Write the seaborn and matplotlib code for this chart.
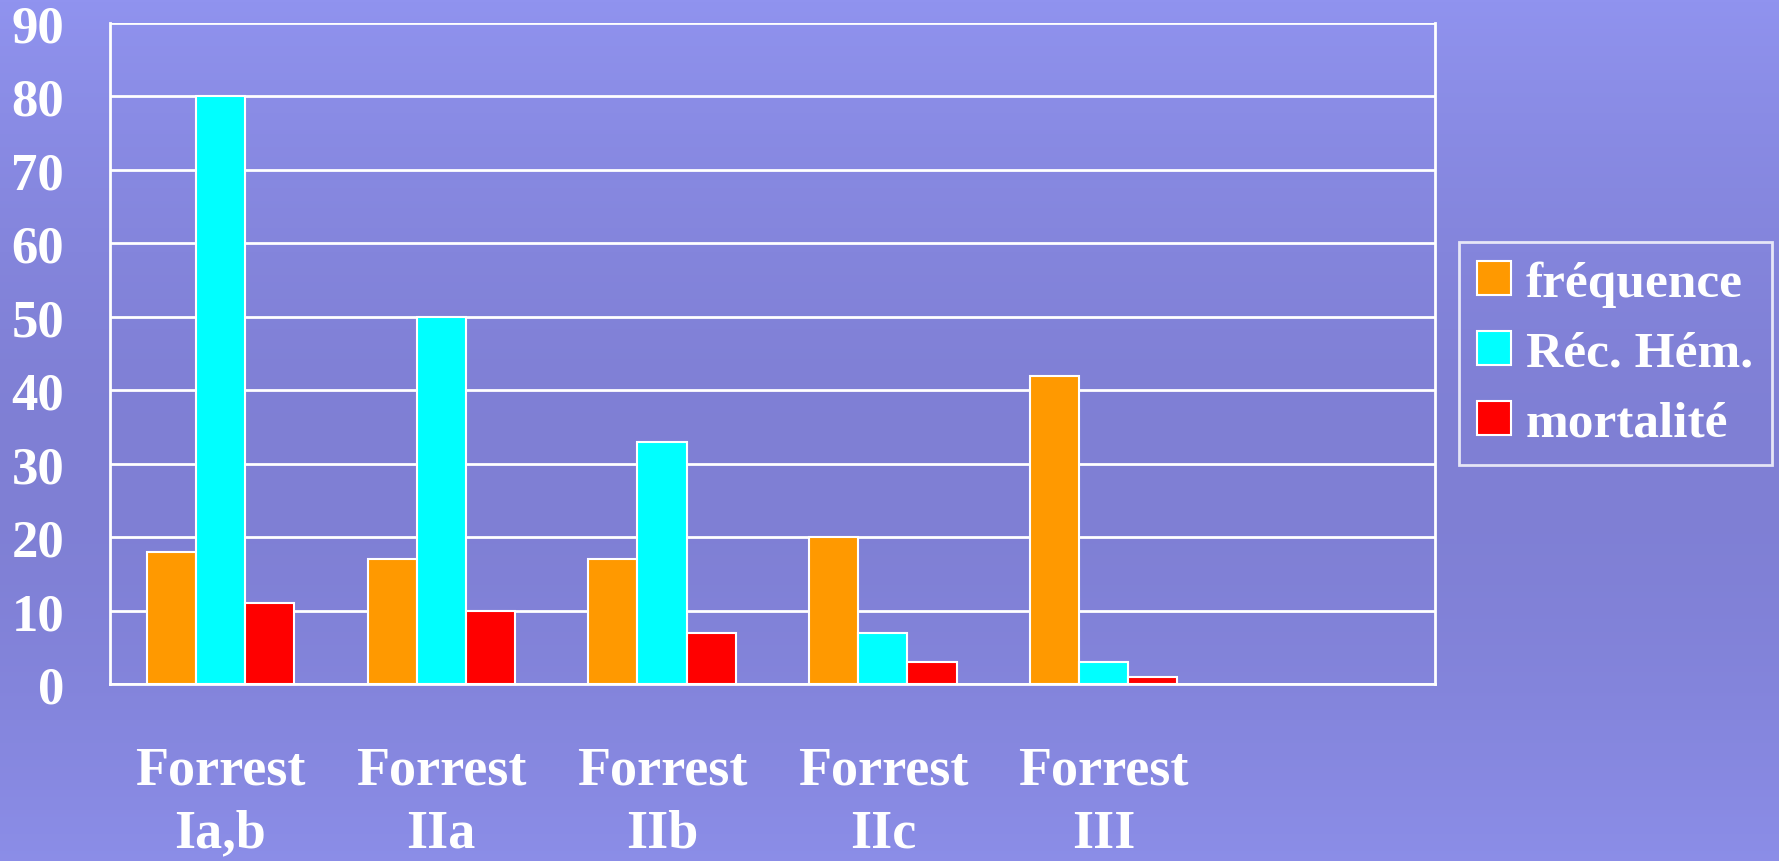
import numpy as np
import pandas as pd
import matplotlib
matplotlib.use("Agg")
import matplotlib.pyplot as plt
import seaborn as sns

categories = ["Forrest\nIa,b", "Forrest\nIIa", "Forrest\nIIb", "Forrest\nIIc", "Forrest\nIII"]
series = ["fréquence", "Réc. Hém.", "mortalité"]
frequence = [18, 17, 17, 20, 42]
rec_hem = [80, 50, 33, 7, 3]
mortalite = [11, 10, 7, 3, 1]
colors = ["#FF9900", "#00FFFF", "#FF0000"]

df = pd.DataFrame({
    "cat": categories * 3,
    "serie": [series[0]] * 5 + [series[1]] * 5 + [series[2]] * 5,
    "val": frequence + rec_hem + mortalite,
})

sns.set_style("white")
plt.rcParams["font.family"] = ["Liberation Serif", "DejaVu Serif"]
plt.rcParams["font.weight"] = "bold"

fig = plt.figure(figsize=(17.79, 8.62), dpi=100)

# gradient background
bg = fig.add_axes([0, 0, 1, 1], zorder=-10)
top = np.array([144, 147, 239]) / 255
mid = np.array([127, 127, 212]) / 255
t = np.linspace(0, 1, 256)
w = np.abs(t - 0.55) / 0.55
grad = mid[None, :] + (top - mid)[None, :] * (w ** 1.6)[:, None]
bg.imshow(grad[:, None, :], aspect="auto", extent=[0, 1, 0, 1])
bg.axis("off")

ax = fig.add_axes([0.0618, 0.2053, 0.7448, 0.7669])
ax.patch.set_alpha(0)
sns.barplot(data=df, x="cat", y="val", hue="serie", palette=colors, saturation=1,
            width=0.667, edgecolor="white", linewidth=1.5, ax=ax, zorder=3)

ax.set_xlim(-0.5, 5.5)
ax.set_ylim(0, 90)
ax.set_yticks(range(0, 91, 10))
ax.yaxis.grid(True, color="white", linewidth=2)
ax.set_axisbelow(True)
ax.set_xlabel("")
ax.set_ylabel("")

for side in ["left", "bottom", "right"]:
    ax.spines[side].set_color("white")
    ax.spines[side].set_linewidth(2)
ax.spines["top"].set_visible(False)

ax.set_xticks(np.arange(-0.5, 6.0, 1.0))
ax.set_xticklabels([])
ax.set_xticks(range(5), categories, minor=True)
ax.tick_params(axis="x", which="major", length=13, width=2, color="white", direction="out")
ax.tick_params(axis="x", which="minor", length=0, pad=44, labelsize=39, labelcolor="white")
ax.tick_params(axis="y", length=14, width=2, color="white", direction="out", pad=19,
               labelsize=38, labelcolor="white")
for lab in ax.get_xticklabels(minor=True):
    lab.set_fontweight("bold")
    lab.set_linespacing(1.36)
for lab in ax.get_yticklabels():
    lab.set_fontweight("bold")

handles, labels = ax.get_legend_handles_labels()
ax.get_legend().remove()
leg = fig.legend(handles, labels, loc="upper left", bbox_to_anchor=(0.820, 0.718),
                 frameon=True, fancybox=False, edgecolor="white", facecolor="none",
                 fontsize=37, labelcolor="white", handlelength=0.65, handleheight=0.65,
                 labelspacing=0.46, handletextpad=0.3, borderpad=0.36, borderaxespad=0)
leg.get_frame().set_linewidth(2)
for txt in leg.get_texts():
    txt.set_fontweight("bold")

fig.savefig("out.png", dpi=100)
